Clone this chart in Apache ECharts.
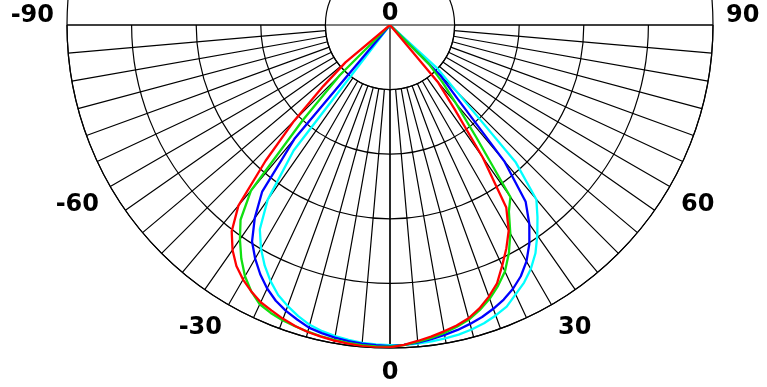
<!DOCTYPE html>
<html><head><meta charset="utf-8">
<script src="https://cdn.jsdelivr.net/npm/echarts@6/dist/echarts.min.js"></script>
<style>html,body{margin:0;padding:0;background:#fff}#c{width:767px;height:387px}</style>
</head><body><div id="c"></div>
<script>
// angle from the downward vertical (degrees), 2.5 degree steps
const angles = [-90,-87.5,-85,-82.5,-80,-77.5,-75,-72.5,-70,-67.5,-65,-62.5,-60,-57.5,-55,
  -52.5,-50,-47.5,-45,-42.5,-40,-37.5,-35,-32.5,-30,-27.5,-25,-22.5,-20,-17.5,-15,-12.5,-10,-7.5,-5,-2.5,
  0,2.5,5,7.5,10,12.5,15,17.5,20,22.5,25,27.5,30,32.5,35,37.5,40,42.5,45,47.5,50,52.5,
  55,57.5,60,62.5,65,67.5,70,72.5,75,77.5,80,82.5,85,87.5,90];
const Z15 = [0,0,0,0,0,0,0,0,0,0,0,0,0,0,0];
// relative intensity (% of outer circle)
const redVals = Z15.concat([0,18,28,42,57,73,80.5,85,88.5,91,93,94.7,95.7,96.8,97.7,98.4,98.8,99.2,99.5,99.8,99.9,
  99.8,99.1,98.2,97.3,96.3,95.3,94.0,92.0,89.5,86.6,82.2,78,73.5,67,50,33,23,0,0,0,0,0]).concat(Z15);
const greenVals = Z15.concat([0,0,0,22,40,67,76,81,85.7,89.8,93,95.4,96.5,97.3,97.8,98.3,98.7,99.0,99.3,99.5,99.6,
  99.6,99.2,98.5,97.7,96.8,95.7,94.4,92.5,90.2,87.4,84.2,79.7,74.5,68.5,65,44,32,24,17,0,0,0]).concat(Z15);
const blueVals = Z15.concat([0,0,0,0,0,46,65,73,79.5,83.5,87,90,92.4,94.2,95.6,97.0,97.7,98.3,98.7,99.0,99.2,
  99.4,99.1,98.7,98.1,97.4,96.7,95.8,94.8,93.5,92.0,90.1,87.7,84.5,80.3,75.2,69,55,31,22,0,0,0]).concat(Z15);
const cyanVals = Z15.concat([0,0,0,0,0,0,49,66,75,79.9,84,87.5,90.5,92.6,94.5,96.1,97.1,97.8,98.3,98.8,99.0,
  99.1,99.1,99.0,98.8,98.5,98.2,97.6,96.8,95.7,94.4,92.0,89.9,87.2,83.8,79.5,75,70.5,57.5,29.5,20,0,0]).concat(Z15);

const tickValues = [-90,-60,-30,0,30,60,90];
const tickLabels = ['-90','-60','-30','0','30','60','90'];
const centerLabel = '0';

const FONT = {fontFamily:'DejaVu Sans', fontSize:24, fontWeight:'bold', color:'#000'};
const R = 323, CX = 390, CY = 25;

function fmt(v){
  const i = tickValues.indexOf(Math.round(v));
  if (i < 0 || Math.abs(v - Math.round(v)) > 1e-6) return '';
  if (Math.abs(v) === 90) return '{hi|' + tickLabels[i] + '}';
  return tickLabels[i];
}

const chart = echarts.init(document.getElementById('c'), null, {renderer:'canvas'});
const black = {color:'#000', width:1.2};
function mk(name, vals, color){
  return {type:'line', name, coordinateSystem:'polar', polarIndex:1,
    data: angles.map((a,i)=>[vals[i], a]), showSymbol:false, symbol:'none',
    lineStyle:{color, width:2.3}, itemStyle:{color}, silent:true, clip:false};
}
chart.setOption({
  animation:false,
  backgroundColor:'#fff',
  polar:[{center:[CX,CY], radius:[R*0.2, R]}, {center:[CX,CY], radius:[0, R]}],
  angleAxis:[
    {polarIndex:0, type:'value', min:-90, max:90, interval:5, startAngle:180, endAngle:360, clockwise:false,
     axisLine:{show:true, lineStyle:black}, axisTick:{show:false},
     splitLine:{show:true, lineStyle:black},
     axisLabel:Object.assign({show:true, margin:13, formatter:fmt,
        rich:{hi:Object.assign({padding:[0,0,18,0]}, FONT)}}, FONT)},
    {polarIndex:1, type:'value', min:-90, max:90, interval:90, startAngle:180, endAngle:360, clockwise:false,
     axisLine:{show:false}, axisTick:{show:false}, axisLabel:{show:false},
     splitLine:{show:true, lineStyle:black}}
  ],
  radiusAxis:[
    {polarIndex:0, type:'value', min:20, max:100, interval:20, axisLine:{show:false}, axisTick:{show:false},
     axisLabel:{show:false}, splitLine:{show:true, lineStyle:black}},
    {polarIndex:1, type:'value', min:0, max:100, axisLine:{show:false}, axisTick:{show:false},
     axisLabel:{show:false}, splitLine:{show:false}}
  ],
  graphic:[{type:'text', x:CX, y:14, style:{text:centerLabel, align:'center', verticalAlign:'middle',
     fontFamily:'DejaVu Sans', fontSize:24, fontWeight:'bold', fill:'#000'}}],
  series:[
    mk('cyan', cyanVals, '#00ffff'),
    mk('blue', blueVals, '#0000ff'),
    mk('green', greenVals, '#10e010'),
    mk('red', redVals, '#ff0000')
  ]
});
</script></body></html>
